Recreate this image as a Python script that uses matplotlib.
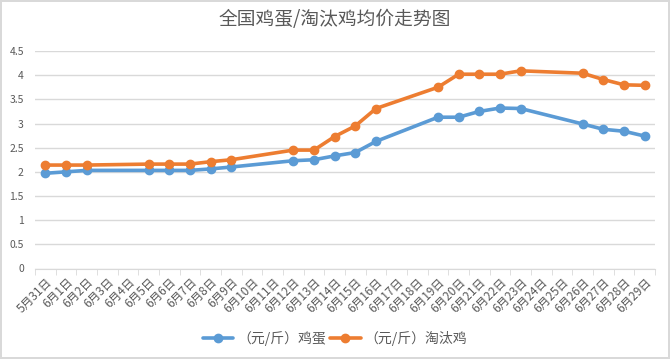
import matplotlib
matplotlib.use('Agg')
import matplotlib.pyplot as plt
import numpy as np

plt.rcParams['font.family'] = ['Noto Sans CJK SC', 'DejaVu Sans']

dates = ['5月31日'] + ['6月%d日' % d for d in range(1, 30)]

# None = no quote that day
egg = [1.97, 2.00, 2.03, None, None, 2.03, 2.03, 2.03, 2.06, 2.10,
       None, None, 2.23, 2.25, 2.33, 2.40, 2.63, None, None, 3.13,
       3.13, 3.25, 3.32, 3.31, None, None, 2.99, 2.88, 2.84, 2.74]
hen = [2.14, 2.14, 2.14, None, None, 2.16, 2.16, 2.16, 2.21, 2.25,
       None, None, 2.45, 2.45, 2.73, 2.95, 3.31, None, None, 3.75,
       4.02, 4.02, 4.02, 4.09, None, None, 4.04, 3.91, 3.80, 3.79]

series_names = ['（元/斤）鸡蛋', '（元/斤）淘汰鸡']
colors = ['#5B9BD5', '#ED7D31']

fig = plt.figure(figsize=(6.7, 3.59), dpi=100)
fig.patch.set_edgecolor('#d9d9d9')
fig.patch.set_linewidth(1.5)
ax = fig.add_axes([35 / 670, (359 - 268.5) / 359, 620 / 670, 217.5 / 359])

x = np.arange(len(dates))
for vals, name, c in zip([egg, hen], series_names, colors):
    idx = [i for i, v in enumerate(vals) if v is not None]
    ax.plot(idx, [vals[i] for i in idx], color=c, lw=2.6, marker='o',
            ms=6, label=name, solid_capstyle='round')

ax.set_xlim(-0.5, len(dates) - 0.5)
ax.set_ylim(0, 4.5)
ax.set_yticks(np.arange(0, 4.51, 0.5))
ax.set_yticklabels(['0', '0.5', '1', '1.5', '2', '2.5', '3', '3.5', '4', '4.5'])
ax.yaxis.grid(True, color='#d9d9d9', lw=1)
ax.set_axisbelow(True)
ax.tick_params(axis='y', length=0, labelsize=7.5, colors='#595959', pad=8)

ax.set_xticks(x)
ax.set_xticklabels(dates, rotation=45, ha='right', rotation_mode='anchor')
ax.set_xticks(np.arange(-0.5, len(dates), 1), minor=True)
ax.tick_params(axis='x', which='major', length=0, labelsize=8.5, colors='#595959', pad=5)
ax.tick_params(axis='x', which='minor', length=4, color='#d9d9d9')

for s in ['top', 'right', 'left']:
    ax.spines[s].set_visible(False)
ax.spines['bottom'].set_color('#d9d9d9')

fig.suptitle('全国鸡蛋/淘汰鸡均价走势图', y=0.975, fontsize=13.5, color='#595959')
fig.legend(loc='center', bbox_to_anchor=(0.5, 1 - 338 / 359), ncol=2, frameon=False,
           fontsize=10, labelcolor='#595959', handlelength=2.2, columnspacing=0.3,
           handletextpad=0.3)

fig.savefig('out.png', dpi=100)
